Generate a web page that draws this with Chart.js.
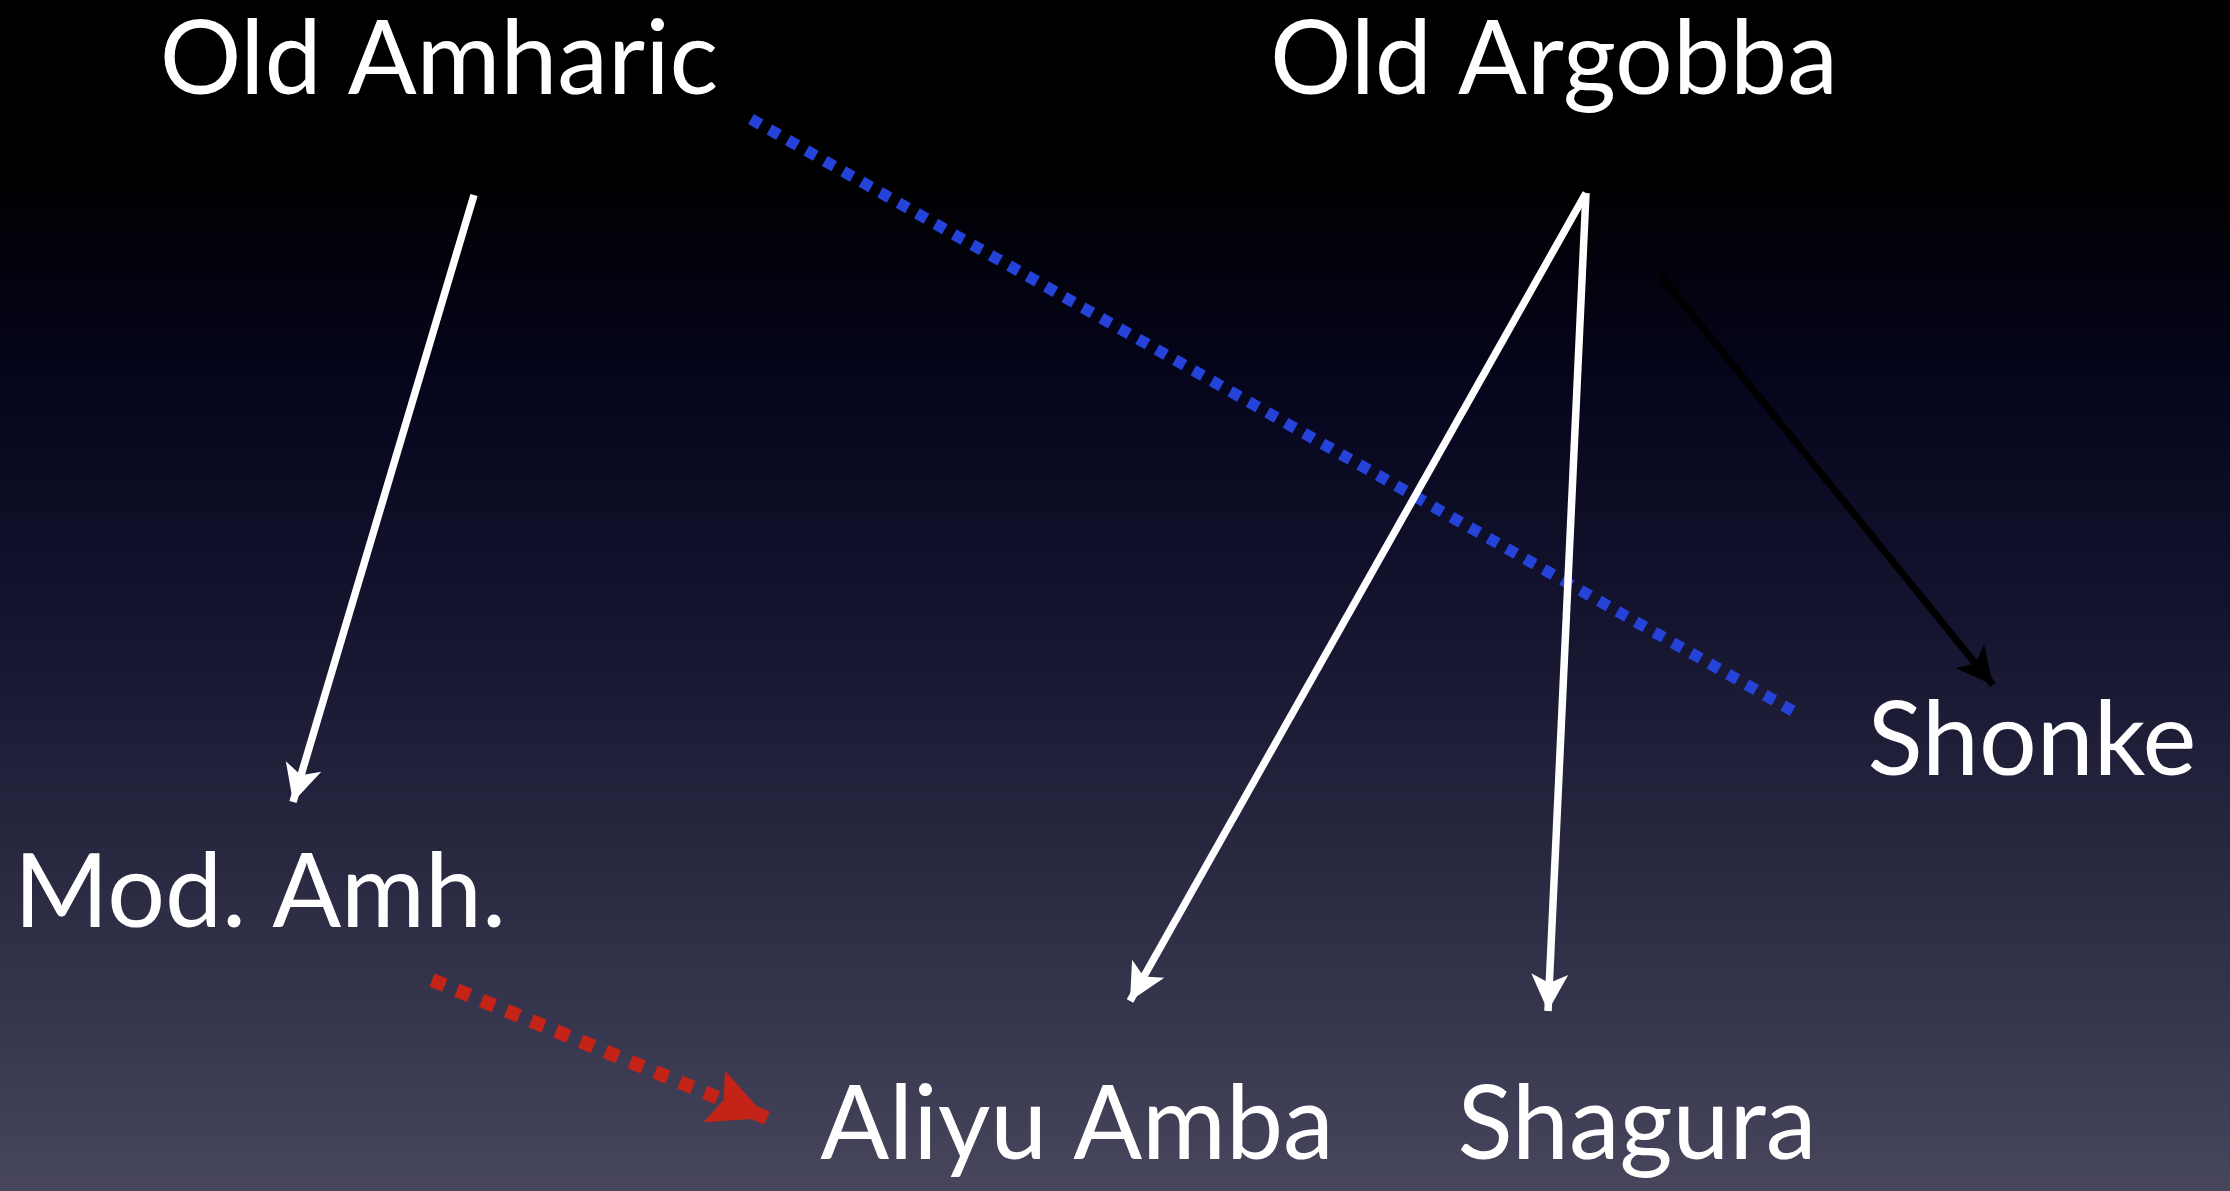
<!DOCTYPE html>
<html>
<head>
<meta charset="utf-8">
<script src="https://cdn.jsdelivr.net/npm/chart.js@4"></script>
<style>
  html, body { margin: 0; padding: 0; background: #000; overflow: hidden; }
  #wrap { width: 2230px; height: 1191px; }
</style>
</head>
<body>
<div id="wrap"><canvas id="c" width="2230" height="1191"></canvas></div>
<script>
// Diagram coordinate space: x 0..2230, y 0..1191 (top to bottom)
const nodeNames = ["Old Amharic", "Old Argobba", "Shonke", "Mod. Amh.", "Aliyu Amba", "Shagura"];
const nodeX = [439, 1554, 2032, 260, 1077, 1637];     // label centres
const nodeY = [94, 94, 775, 927, 1159, 1159];          // label baselines

const arrowX1 = [474, 1586, 1586, 1660, 751, 432];
const arrowY1 = [195, 193, 193, 275, 119, 980];
const arrowX2 = [293, 1130, 1548, 1993, 1800, 767];
const arrowY2 = [802, 1001, 1011, 685, 715, 1118];
const arrowKind = ["white", "white", "white", "black", "blueDots", "redDots"];

const kindStyle = {
  white:    { color: "#ffffff", width: 7.5, dash: [],           head: { len: 37, half: 18.5, notch: 9 } },
  black:    { color: "#000000", width: 7,   dash: [],           head: { len: 37, half: 18.5, notch: 9 } },
  blueDots: { color: "#2542d9", width: 11.5, dash: [11, 10.2],  head: null },
  redDots:  { color: "#c42318", width: 14,  dash: [14, 12.8],   head: { len: 57, half: 28, notch: 10 } }
};

const datasets = arrowKind.map((k, i) => ({
  label: "arrow" + i,
  data: [{ x: arrowX1[i], y: arrowY1[i] }, { x: arrowX2[i], y: arrowY2[i] }],
  showLine: true,
  borderColor: kindStyle[k].color,
  borderWidth: kindStyle[k].width,
  borderDash: kindStyle[k].dash,
  borderCapStyle: "butt",
  pointRadius: 0,
  pointHoverRadius: 0,
  tension: 0,
  clip: false
}));

const bgPlugin = {
  id: "bg",
  beforeDraw(chart) {
    const { ctx, width, height } = chart;
    const g = ctx.createLinearGradient(0, 0, 0, height);
    g.addColorStop(0.00, "#000000");
    g.addColorStop(0.14, "#000000");
    g.addColorStop(0.32, "#05051c");
    g.addColorStop(0.52, "#14142f");
    g.addColorStop(0.70, "#26263f");
    g.addColorStop(0.86, "#36364e");
    g.addColorStop(1.00, "#47465d");
    ctx.save();
    ctx.fillStyle = g;
    ctx.fillRect(0, 0, width, height);
    ctx.restore();
  }
};

const headPlugin = {
  id: "heads",
  afterDatasetsDraw(chart) {
    const ctx = chart.ctx;
    arrowKind.forEach((k, i) => {
      const h = kindStyle[k].head;
      if (!h) return;
      const pts = chart.getDatasetMeta(i).data;
      const a = pts[0], b = pts[1];
      const ang = Math.atan2(b.y - a.y, b.x - a.x);
      ctx.save();
      ctx.translate(b.x, b.y);
      ctx.rotate(ang);
      ctx.beginPath();
      ctx.moveTo(0, 0);
      ctx.lineTo(-h.len, -h.half);
      ctx.lineTo(-h.len + h.notch, 0);
      ctx.lineTo(-h.len, h.half);
      ctx.closePath();
      ctx.fillStyle = kindStyle[k].color;
      ctx.fill();
      ctx.restore();
    });
  }
};

const textPlugin = {
  id: "labels",
  afterDraw(chart) {
    const ctx = chart.ctx;
    const xs = chart.scales.x, ys = chart.scales.y;
    ctx.save();
    ctx.fillStyle = "#ffffff";
    ctx.font = '102px Lato, "Open Sans", sans-serif';
    ctx.textAlign = "center";
    ctx.textBaseline = "alphabetic";
    nodeNames.forEach((t, i) => {
      ctx.fillText(t, xs.getPixelForValue(nodeX[i]), ys.getPixelForValue(nodeY[i]));
    });
    ctx.restore();
  }
};

new Chart(document.getElementById("c"), {
  type: "scatter",
  data: { datasets },
  options: {
    responsive: false,
    devicePixelRatio: 1,
    animation: false,
    events: [],
    layout: { padding: 0 },
    plugins: { legend: { display: false }, tooltip: { enabled: false } },
    scales: {
      x: { type: "linear", min: 0, max: 2230, display: false },
      y: { type: "linear", min: 0, max: 1191, reverse: true, display: false }
    }
  },
  plugins: [bgPlugin, headPlugin, textPlugin]
});
</script>
</body>
</html>
